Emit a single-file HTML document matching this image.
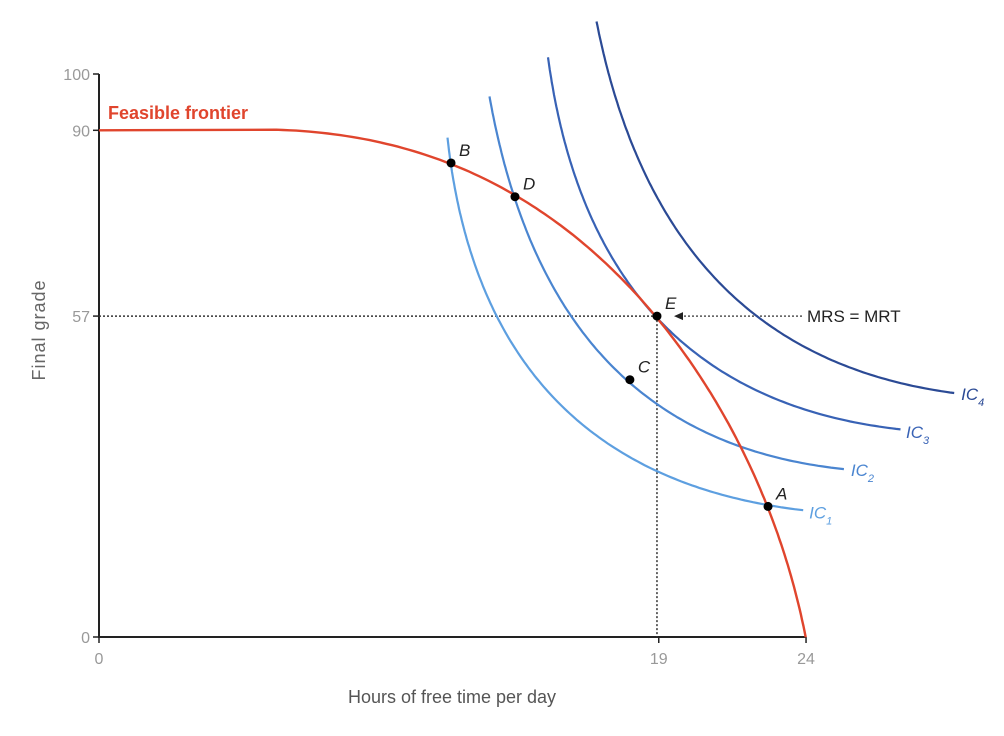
<!DOCTYPE html>
<html><head><meta charset="utf-8"><style>
body{margin:0;background:#fff;}
svg{display:block;font-family:"Liberation Sans",sans-serif;}
</style></head><body>
<svg id="chart" width="1004" height="736"></svg>
<script>
const xTicks=[0,19,24];
const yTicks=[0,57,90,100];
const frontierH=[0,3,6.0,6.82,8.52,10.22,11.95,14.12,15.89,17.58,18.94,20.40,21.76,22.71,23.35,24];
const frontierG=[90,90,90,89.8,89.3,86.8,84.2,78.2,71.8,64.8,57,46.4,33.6,23.2,12.8,0];
const ic1H=[11.81,11.95,12.49,13.61,14.73,16.43,18.94,20.98,22.71,23.90];
const ic1G=[88.6,84.2,70.9,56.3,46.4,37.3,29.7,25.7,23.3,22.5];
const ic2H=[13.27,13.61,14.12,14.73,15.89,18.02,19.82,21.76,24.47,25.32];
const ic2G=[96.1,86.2,78.2,69.7,57.4,45.7,38.5,33.6,30.2,30.0];
const ic3H=[15.21,15.55,16.43,17.58,18.94,20.40,22.67,24.47,27.19];
const ic3G=[102.8,95.3,77.0,66.6,57.0,48.9,43.4,39.7,36.8];
const ic4H=[16.94,17.45,18.70,20.40,22.67,24.47,29.06];
const ic4G=[109.6,95.3,80.1,67.9,56.2,49.2,43.5];
const ptNames=['B','D','E','C','A'];
const ptH=[11.95,14.12,18.94,18.02,22.71];
const ptG=[84.2,78.2,57,45.7,23.2];

const NS='http://www.w3.org/2000/svg';
const svg=document.getElementById('chart');
const X=h=>99+h*29.46, Y=g=>637-g*5.63;
function el(t,a,txt){const e=document.createElementNS(NS,t);for(const k in a)e.setAttribute(k,a[k]);if(txt!==undefined)e.textContent=txt;svg.appendChild(e);return e;}
function polyfit(xs,ys,deg){
 const n=deg+1,A=[];for(let i=0;i<n;i++){A.push(new Array(n+1).fill(0));}
 xs.forEach((x,k)=>{for(let i=0;i<n;i++){for(let j=0;j<n;j++)A[i][j]+=Math.pow(x,i+j);A[i][n]+=Math.pow(x,i)*ys[k];}});
 for(let i=0;i<n;i++){let m=i;for(let r=i+1;r<n;r++)if(Math.abs(A[r][i])>Math.abs(A[m][i]))m=r;[A[i],A[m]]=[A[m],A[i]];
  for(let r=0;r<n;r++){if(r===i)continue;const f=A[r][i]/A[i][i];for(let c=i;c<=n;c++)A[r][c]-=f*A[i][c];}}
 return A.map((row,i)=>row[n]/row[i]);
}
function path(H,G,deg,prefix){
 const px=H.map(X),py=G.map(Y);
 const s=px.map((x,i)=>x+py[i]),t=px.map((x,i)=>x-py[i]);
 const s0=s[0],s1=s[s.length-1],mid=(s0+s1)/2,half=(s1-s0)/2;
 const u=s.map(v=>(v-mid)/half);
 const c=polyfit(u,t,deg);
 let d=prefix||'';
 for(let k=0;k<=150;k++){const uu=-1+2*k/150;const ss=mid+uu*half;let tt=0;c.forEach((ci,i)=>tt+=ci*Math.pow(uu,i));
  const x=(ss+tt)/2,y=(ss-tt)/2;d+=((k||prefix)?'L':'M')+x.toFixed(1)+','+y.toFixed(1);}
 return d;
}

let e;
e=el('line',{x1:99,y1:Y(100),x2:99,y2:637,stroke:'#222','stroke-width':2});

e=el('line',{x1:98,y1:637,x2:X(24),y2:637,stroke:'#222','stroke-width':2});

yTicks.forEach(t=>{
 e=el('line',{x1:93,x2:99,y1:Y(t),y2:Y(t),stroke:'#222','stroke-width':1.5});
 
 e=el('text',{x:90,y:Y(t)+6,'text-anchor':'end','font-size':16,fill:'#999'},t);
 
});
xTicks.forEach(t=>{
 e=el('line',{x1:X(t),x2:X(t),y1:637,y2:643,stroke:'#222','stroke-width':1.5});
 
 e=el('text',{x:X(t),y:664,'text-anchor':'middle','font-size':16,fill:'#999'},t);
 
});
e=el('text',{x:452,y:703,'text-anchor':'middle','font-size':18,fill:'#555'},'Hours of free time per day');

e=el('text',{x:45,y:330,'text-anchor':'middle','font-size':18,fill:'#666',transform:'rotate(-90 45 330)','letter-spacing':1},'Final grade');


e=el('line',{x1:99,y1:Y(57),x2:X(18.94),y2:Y(57),stroke:'#333','stroke-width':1.5,'stroke-dasharray':'2,2'});

e=el('line',{x1:X(18.94),y1:Y(57),x2:X(18.94),y2:637,stroke:'#333','stroke-width':1.5,'stroke-dasharray':'2,2'});

e=el('line',{x1:802,y1:Y(57),x2:682,y2:Y(57),stroke:'#555','stroke-width':1.5,'stroke-dasharray':'2,2'});

e=el('polygon',{points:`674,${Y(57)} 683,${Y(57)-4} 683,${Y(57)+4}`,fill:'#222'});

e=el('text',{x:807,y:Y(57)+6,'font-size':17,fill:'#222'},'MRS = MRT');


const ics=[[ic1H,ic1G,'#5d9fe0','ic1',1],[ic2H,ic2G,'#4a85d0','ic2',2],[ic3H,ic3G,'#3862b5','ic3',3],[ic4H,ic4G,'#2b4a95','ic4',4]];
ics.forEach(([H,G,c,n,k])=>{
 e=el('path',{d:path(H,G,3),fill:'none',stroke:c,'stroke-width':2.2});
 
 const lx=X(H[H.length-1])+6, ly=Y(G[G.length-1])+8;
 e=el('text',{x:lx,y:ly,'font-size':17,'font-style':'italic',fill:c});
 e.innerHTML='IC<tspan font-size="11" dy="6">'+k+'</tspan>';
 
});
// frontier: flat part then fitted curved part
let kf=frontierG.findIndex(g=>g<frontierG[0]);
kf=Math.max(kf-1,0);
const fH=frontierH.slice(kf),fG=frontierG.slice(kf);
e=el('path',{d:path(fH,fG,4,'M'+X(frontierH[0])+','+Y(frontierG[0])),fill:'none',stroke:'#e0452d','stroke-width':2.4});

e=el('text',{x:108,y:119,'font-size':18,'font-weight':'bold',fill:'#e0452d'},'Feasible frontier');


ptNames.forEach((n,i)=>{
 e=el('circle',{cx:X(ptH[i]),cy:Y(ptG[i]),r:4.5,fill:'#000'});
 
 e=el('text',{x:X(ptH[i])+8,y:Y(ptG[i])-7,'font-size':17,'font-style':'italic',fill:'#222'},n);
 
});
</script>
</body></html>
